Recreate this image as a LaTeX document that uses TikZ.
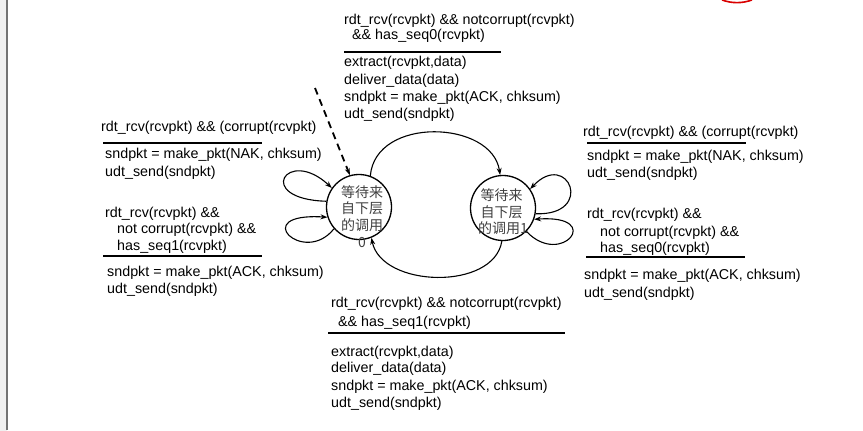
\documentclass[tikz,border=0pt]{standalone}
\usepackage{fontspec}
\setmainfont{Liberation Sans}
\newfontfamily\cjk{Noto Sans CJK SC}
\usetikzlibrary{arrows.meta}
\begin{document}
\begin{tikzpicture}[x=1pt,y=-1pt,
  txt/.style={anchor=base west,inner sep=0pt,font=\fontsize{14.3}{17}\selectfont},
  ctxt/.style={anchor=base,inner sep=0pt,font=\cjk\fontsize{14}{17}\selectfont,text=black!75},
  fsmstate/.style={circle,draw,line width=1.3pt,minimum size=65pt,inner sep=0pt},
  rulebar/.style={line width=2.5pt},
  edgearrow/.style={line width=1.1pt,-{Stealth[length=7pt,width=5pt]}}]
\useasboundingbox (0,0) rectangle (863,431);
% left page strip
\fill[gray!12] (0,0) rectangle (6.5,431);
\draw[black!55,line width=1.3pt] (7,0) -- (7,430);
% red fragment at top
\draw[red!85!black,line width=1.6pt] (722,0) .. controls (732,3.5) and (742,3.5) .. (752,0);

% states
\node[fsmstate] (s0) at (359,207) {};
\node[fsmstate] (s1) at (503,208) {};
\node[ctxt] (s0a) at (362,197.5) {等待来};
\node[ctxt] (s0b) at (362,213.5) {自下层};
\node[ctxt] (s0c) at (362,230.5) {的调用};
\node[ctxt] (s0d) at (362,247) {0};
\node[ctxt] (s1a) at (501.5,200.5) {等待来};
\node[ctxt] (s1b) at (501.5,217) {自下层};
\node[ctxt] (s1c) at (503,233.5) {的调用1};

% initial dashed arrow
\coordinate (init) at (315,88);
\draw[edgearrow,line width=1.8pt,dash pattern=on 7pt off 5pt] (init) -- (s0.106);

% transitions between states
\draw[edgearrow] (s0.70) .. controls +(5,-60) and +(-8,-55) .. (s1.95);
\draw[edgearrow] (s1.-92) .. controls +(-8,50) and +(10,50) .. (s0.-68);

% self loops state 0
\draw[edgearrow] (s0.170) .. controls +(-73,-2) and +(-45,-42) .. (s0.145);
\draw[edgearrow] (s0.221) .. controls +(-30,38) and +(-80,-5) .. (s0.198);
% self loops state 1
\draw[edgearrow] (s1.-10) .. controls +(60,2) and +(38,-40) .. (s1.35);
\draw[edgearrow] (s1.-45) .. controls +(35,37) and +(71,-5) .. (s1.-20);

% top block
\node[txt] (t1) at (344,24) {rdt\_rcv(rcvpkt) \&\& notcorrupt(rcvpkt)};
\node[txt] (t2) at (352,39) {\&\& has\_seq0(rcvpkt)};
\draw[rulebar] (344,52) -- (501,52);
\node[txt] (t3) at (344,66) {extract(rcvpkt,data)};
\node[txt] (t4) at (344,84) {deliver\_data(data)};
\node[txt] (t5) at (344,101) {sndpkt = make\_pkt(ACK, chksum)};
\node[txt] (t6) at (344,118) {udt\_send(sndpkt)};

% left blocks
\node[txt] (l1) at (101,131) {rdt\_rcv(rcvpkt) \&\& (corrupt(rcvpkt)};
\draw[rulebar] (103,143) -- (262,143);
\node[txt] (l2) at (105,158) {sndpkt = make\_pkt(NAK, chksum)};
\node[txt] (l3) at (105,176) {udt\_send(sndpkt)};
\node[txt] (l4) at (105,217) {rdt\_rcv(rcvpkt) \&\&};
\node[txt] (l5) at (117,233) {not corrupt(rcvpkt) \&\&};
\node[txt] (l6) at (117,250) {has\_seq1(rcvpkt)};
\draw[rulebar] (103,256) -- (262,256);
\node[txt] (l7) at (107,276) {sndpkt = make\_pkt(ACK, chksum)};
\node[txt] (l8) at (107,293) {udt\_send(sndpkt)};

% right blocks
\node[txt] (r1) at (583,136) {rdt\_rcv(rcvpkt) \&\& (corrupt(rcvpkt)};
\draw[rulebar] (587,143) -- (746,143);
\node[txt] (r2) at (587,160) {sndpkt = make\_pkt(NAK, chksum)};
\node[txt] (r3) at (587,177) {udt\_send(sndpkt)};
\node[txt] (r4) at (587,218) {rdt\_rcv(rcvpkt) \&\&};
\node[txt] (r5) at (600,236) {not corrupt(rcvpkt) \&\&};
\node[txt] (r6) at (600,252) {has\_seq0(rcvpkt)};
\draw[rulebar] (586,257) -- (745,257);
\node[txt] (r7) at (584,279) {sndpkt = make\_pkt(ACK, chksum)};
\node[txt] (r8) at (584,297) {udt\_send(sndpkt)};

% bottom block
\node[txt] (b1) at (331,307) {rdt\_rcv(rcvpkt) \&\& notcorrupt(rcvpkt)};
\node[txt] (b2) at (338,326) {\&\& has\_seq1(rcvpkt)};
\draw[rulebar] (328,333) -- (565,333);
\node[txt] (b3) at (331,356) {extract(rcvpkt,data)};
\node[txt] (b4) at (331,372) {deliver\_data(data)};
\node[txt] (b5) at (331,390) {sndpkt = make\_pkt(ACK, chksum)};
\node[txt] (b6) at (331,407) {udt\_send(sndpkt)};
\end{tikzpicture}
\end{document}
